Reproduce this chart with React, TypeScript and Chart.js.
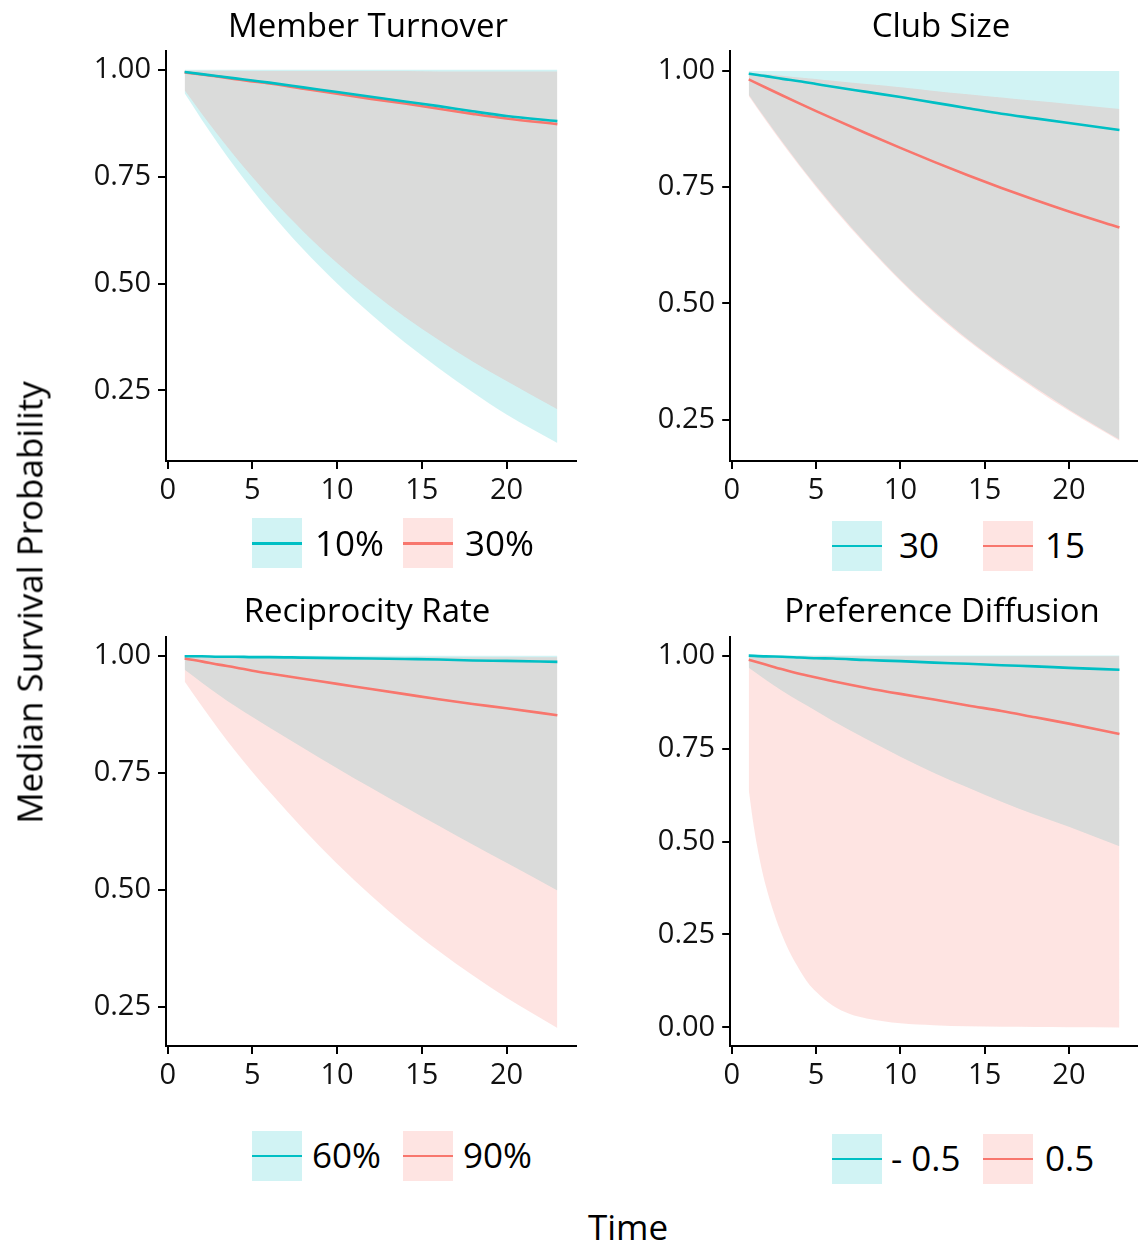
import React, { useEffect, useRef } from "react";
import { Chart, registerables } from "chart.js";

Chart.register(...registerables);

// ---------- data ----------
const TIME = [1, 2, 3, 4, 5, 6, 8, 10, 12, 14, 16, 18, 20, 23];
const TIME_DROP = [1, 1.25, 1.5, 1.75, 2, 2.5, 3, 3.5, 4, 4.5, 5, 6, 7, 8, 10, 12, 14, 16, 18, 20, 23];
const X_TICKS = [0, 5, 10, 15, 20];
const Y_TICKS_A = [0.25, 0.5, 0.75, 1.0];
const Y_TICKS_B = [0, 0.25, 0.5, 0.75, 1.0];

// Member Turnover: 10% (teal) vs 30% (red)
const MT_A_MED = [0.995, 0.99, 0.985, 0.98, 0.975, 0.97, 0.959, 0.948, 0.937, 0.926, 0.915, 0.903, 0.892, 0.88];
const MT_A_UP = [1.0, 1.0, 1.0, 1.0, 1.0, 1.0, 1.0, 1.0, 1.0, 1.0, 1.0, 1.0, 1.0, 1.0];
const MT_A_LOW = [0.945, 0.884, 0.826, 0.771, 0.719, 0.67, 0.58, 0.5, 0.428, 0.362, 0.302, 0.246, 0.194, 0.127];
const MT_B_MED = [0.994, 0.989, 0.984, 0.978, 0.973, 0.968, 0.956, 0.944, 0.932, 0.921, 0.909, 0.897, 0.886, 0.873];
const MT_B_UP = [0.998, 0.998, 0.998, 0.998, 0.997, 0.997, 0.997, 0.997, 0.997, 0.997, 0.996, 0.996, 0.996, 0.996];
const MT_B_LOW = [0.952, 0.898, 0.846, 0.796, 0.749, 0.704, 0.622, 0.548, 0.482, 0.422, 0.368, 0.318, 0.272, 0.206];

// Club Size: 30 (teal) vs 15 (red)
const CS_A_MED = [0.994, 0.989, 0.983, 0.978, 0.972, 0.966, 0.955, 0.944, 0.932, 0.92, 0.908, 0.898, 0.888, 0.873];
const CS_A_UP = [1.0, 1.0, 1.0, 1.0, 1.0, 1.0, 1.0, 1.0, 1.0, 1.0, 1.0, 1.0, 1.0, 1.0];
const CS_A_LOW = [0.949, 0.897, 0.847, 0.799, 0.753, 0.709, 0.627, 0.551, 0.483, 0.423, 0.369, 0.319, 0.272, 0.207];
const CS_B_MED = [0.982, 0.9645, 0.9473, 0.9304, 0.9138, 0.8975, 0.8655, 0.8345, 0.8045, 0.7757, 0.7483, 0.7223, 0.6977, 0.6632];
const CS_B_UP = [0.997, 0.993, 0.99, 0.986, 0.983, 0.979, 0.972, 0.965, 0.957, 0.95, 0.943, 0.936, 0.929, 0.918];
const CS_B_LOW = [0.946, 0.894, 0.844, 0.796, 0.75, 0.706, 0.624, 0.548, 0.48, 0.42, 0.366, 0.316, 0.269, 0.2045];

// Reciprocity Rate: 60% (teal) vs 90% (red)
const RR_A_MED = [0.999, 0.999, 0.998, 0.998, 0.997, 0.997, 0.996, 0.995, 0.994, 0.993, 0.992, 0.99, 0.989, 0.987];
const RR_A_UP = [1.0, 1.0, 1.0, 1.0, 1.0, 1.0, 1.0, 1.0, 1.0, 1.0, 1.0, 1.0, 1.0, 1.0];
const RR_A_LOW = [0.97, 0.943, 0.917, 0.892, 0.869, 0.847, 0.803, 0.76, 0.718, 0.677, 0.637, 0.597, 0.558, 0.499];
const RR_B_MED = [0.994, 0.988, 0.981, 0.975, 0.968, 0.962, 0.951, 0.94, 0.929, 0.918, 0.907, 0.897, 0.888, 0.873];
const RR_B_UP = [0.998, 0.998, 0.998, 0.998, 0.997, 0.997, 0.997, 0.997, 0.997, 0.997, 0.997, 0.997, 0.997, 0.997];
const RR_B_LOW = [0.945, 0.893, 0.843, 0.796, 0.752, 0.71, 0.63, 0.556, 0.488, 0.426, 0.37, 0.318, 0.27, 0.2055];

// Preference Diffusion: -0.5 (teal) vs 0.5 (red)
const PD_A_MED = [1.0, 0.998, 0.997, 0.995, 0.993, 0.992, 0.988, 0.985, 0.981, 0.978, 0.974, 0.971, 0.967, 0.962];
const PD_A_UP = [1.0, 1.0, 1.0, 1.0, 1.0, 1.0, 1.0, 1.0, 1.0, 1.0, 1.0, 1.0, 1.0, 1.0];
const PD_A_LOW = [0.967, 0.935, 0.905, 0.877, 0.851, 0.824, 0.775, 0.728, 0.684, 0.645, 0.607, 0.572, 0.54, 0.487];
const PD_B_MED = [0.989, 0.976, 0.963, 0.951, 0.941, 0.931, 0.913, 0.897, 0.882, 0.866, 0.851, 0.834, 0.817, 0.789];
const PD_B_UP = [0.998, 0.998, 0.998, 0.998, 0.998, 0.998, 0.998, 0.998, 0.998, 0.998, 0.998, 0.998, 0.998, 0.998, 0.998, 0.998, 0.998, 0.998, 0.998, 0.998, 0.998];
const PD_B_LOW = [0.639, 0.555, 0.487, 0.43, 0.383, 0.307, 0.246, 0.196, 0.156, 0.121, 0.096, 0.058, 0.036, 0.024, 0.011, 0.006, 0.003, 0.0015, 0.001, 0.0005, 0.0];

// ---------- styling ----------
const TEAL = "#00BFC4";
const RED = "#F8766D";
const TEAL_FILL = "rgba(0,191,196,0.18)";
const RED_FILL = "rgba(248,118,109,0.2)";
const FONT = "'Open Sans', sans-serif";
const TICK_SIZE = 29;

type Panel = {
  title: string;
  labels: [string, string];
  tBandA: number[];
  tBandB: number[];
  aMed: number[]; aUp: number[]; aLow: number[];
  bMed: number[]; bUp: number[]; bLow: number[];
  yTicks: number[];
  yMin: number; yMax: number;
  area: { l: number; t: number; r: number; b: number };
  canvas: { x: number; y: number; w: number; h: number };
  titleX: number; titleBase: number;
  legend: { boxA: number; boxB: number; textA: number; textB: number; boxY: number };
};

const PANELS: Panel[] = [
  {
    title: "Member Turnover", labels: ["10%", "30%"], tBandA: TIME, tBandB: TIME,
    aMed: MT_A_MED, aUp: MT_A_UP, aLow: MT_A_LOW, bMed: MT_B_MED, bUp: MT_B_UP, bLow: MT_B_LOW,
    yTicks: Y_TICKS_A, yMin: 0.085, yMax: 1.044,
    area: { l: 166, t: 51, r: 576, b: 461 }, canvas: { x: 0, y: 0, w: 580, h: 520 },
    titleX: 368, titleBase: 37.5,
    legend: { boxA: 252.3, boxB: 403, textA: 315, textB: 465, boxY: 518.3 },
  },
  {
    title: "Club Size", labels: ["30", "15"], tBandA: TIME, tBandB: TIME,
    aMed: CS_A_MED, aUp: CS_A_UP, aLow: CS_A_LOW, bMed: CS_B_MED, bUp: CS_B_UP, bLow: CS_B_LOW,
    yTicks: Y_TICKS_A, yMin: 0.161, yMax: 1.043,
    area: { l: 730.2, t: 51, r: 1138, b: 461 }, canvas: { x: 590, y: 0, w: 548, h: 520 },
    titleX: 941, titleBase: 37.5,
    legend: { boxA: 832.3, boxB: 983, textA: 899, textB: 1045, boxY: 521 },
  },
  {
    title: "Reciprocity Rate", labels: ["60%", "90%"], tBandA: TIME, tBandB: TIME,
    aMed: RR_A_MED, aUp: RR_A_UP, aLow: RR_A_LOW, bMed: RR_B_MED, bUp: RR_B_UP, bLow: RR_B_LOW,
    yTicks: Y_TICKS_A, yMin: 0.167, yMax: 1.04,
    area: { l: 166, t: 637, r: 576, b: 1046 }, canvas: { x: 0, y: 586, w: 580, h: 520 },
    titleX: 367, titleBase: 622,
    legend: { boxA: 252.3, boxB: 403, textA: 312, textB: 463, boxY: 1131 },
  },
  {
    title: "Preference Diffusion", labels: ["- 0.5", "0.5"], tBandA: TIME, tBandB: TIME_DROP,
    aMed: PD_A_MED, aUp: PD_A_UP, aLow: PD_A_LOW, bMed: PD_B_MED, bUp: PD_B_UP, bLow: PD_B_LOW,
    yTicks: Y_TICKS_B, yMin: -0.05, yMax: 1.05,
    area: { l: 730.2, t: 637, r: 1138, b: 1046 }, canvas: { x: 590, y: 586, w: 548, h: 520 },
    titleX: 942, titleBase: 622,
    legend: { boxA: 832.3, boxB: 983, textA: 891, textB: 1045, boxY: 1134 },
  },
];

function pts(xs: number[], ys: number[]) {
  return xs.map((x, i) => ({ x, y: ys[i] }));
}

function PanelChart({ p }: { p: Panel }) {
  const ref = useRef<HTMLCanvasElement | null>(null);
  useEffect(() => {
    if (!ref.current) return;
    const c = p.canvas;
    const a = p.area;
    const yWidth = a.l - c.x;
    const xHeight = c.y + c.h - a.b;
    const line = (data: any, color: string) => ({
      data, borderColor: color, borderWidth: 2.6, pointRadius: 0, fill: false,
      cubicInterpolationMode: "monotone" as const,
    });
    const band = (data: any, bg: string, fill: any) => ({
      data, borderColor: "rgba(0,0,0,0)", borderWidth: 0.01, pointRadius: 0,
      backgroundColor: bg, fill, cubicInterpolationMode: "monotone" as const,
    });
    const commonGrid = {
      display: true, drawOnChartArea: false, drawTicks: true, tickLength: 8,
      color: "#000", tickColor: "#000", tickWidth: 2, lineWidth: 2,
    };
    const chart = new Chart(ref.current, {
      type: "line",
      data: {
        datasets: [
          line(pts(TIME, p.aMed), TEAL),
          line(pts(TIME, p.bMed), RED),
          band(pts(p.tBandB, p.bUp), RED_FILL, "+1"),
          band(pts(p.tBandB, p.bLow), "rgba(0,0,0,0)", false),
          band(pts(p.tBandA, p.aUp), TEAL_FILL, "+1"),
          band(pts(p.tBandA, p.aLow), "rgba(0,0,0,0)", false),
        ] as any,
      },
      options: {
        animation: false,
        responsive: false,
        maintainAspectRatio: false,
        devicePixelRatio: 1,
        events: [],
        layout: {
          autoPadding: false,
          padding: { left: 0, top: a.t - c.y, right: c.x + c.w - a.r, bottom: 0 },
        },
        plugins: {
          legend: { display: false },
          tooltip: { enabled: false },
          title: { display: false },
        },
        scales: {
          x: {
            type: "linear",
            min: -0.1,
            max: 24.1,
            afterBuildTicks: (s: any) => { s.ticks = X_TICKS.map((v) => ({ value: v })); },
            afterFit: (s: any) => {
              s.height = xHeight;
              s.paddingLeft = 0; s.paddingRight = 0; s.paddingTop = 0; s.paddingBottom = 0;
            },
            ticks: {
              autoSkip: false, maxRotation: 0, padding: 4, color: "#111",
              font: { family: FONT, size: TICK_SIZE },
              callback: (v: any) => String(v),
            },
            grid: commonGrid,
            border: { display: true, color: "#000", width: 2 },
          },
          y: {
            type: "linear",
            min: p.yMin,
            max: p.yMax,
            afterBuildTicks: (s: any) => { s.ticks = p.yTicks.map((v) => ({ value: v })); },
            afterFit: (s: any) => {
              s.width = yWidth;
              s.paddingLeft = 0; s.paddingRight = 0; s.paddingTop = 0; s.paddingBottom = 0;
            },
            ticks: {
              autoSkip: false, padding: 7, color: "#111",
              font: { family: FONT, size: TICK_SIZE },
              callback: (v: any) => Number(v).toFixed(2),
            },
            grid: commonGrid,
            border: { display: true, color: "#000", width: 2 },
          },
        },
      } as any,
    });
    return () => chart.destroy();
  }, [p]);
  return (
    <canvas
      ref={ref}
      width={p.canvas.w}
      height={p.canvas.h}
      style={{ position: "absolute", left: p.canvas.x, top: p.canvas.y, width: p.canvas.w, height: p.canvas.h }}
    />
  );
}

const BASE_RATIO = 0.888;

function Text({ text, x, base, size, align = "center" }: { text: string; x: number; base: number; size: number; align?: "center" | "left" }) {
  const top = base - BASE_RATIO * size;
  const style: React.CSSProperties = {
    position: "absolute", top, fontFamily: FONT, fontSize: size, lineHeight: `${size}px`,
    whiteSpace: "nowrap", color: "#000", zIndex: 2,
  };
  if (align === "center") {
    style.left = x - 400; style.width = 800; style.textAlign = "center";
  } else {
    style.left = x;
  }
  return <div style={style}>{text}</div>;
}

function LegendKey({ x, y, color, fill }: { x: number; y: number; color: string; fill: string }) {
  return (
    <div style={{ position: "absolute", left: x, top: y, width: 50, height: 50, background: fill, zIndex: 2 }}>
      <div style={{ position: "absolute", left: 0, top: 23.6, width: 50, height: 2.8, background: color }} />
    </div>
  );
}

export default function App() {
  useEffect(() => {
    document.body.style.margin = "0";
  }, []);
  const ySize = 35;
  return (
    <div style={{ position: "absolute", left: 0, top: 0, width: 1138, height: 1249, background: "#fff", overflow: "hidden" }}>
      {PANELS.map((p, i) => (
        <React.Fragment key={i}>
          <PanelChart p={p} />
          <Text text={p.title} x={p.titleX} base={p.titleBase} size={33} />
          <LegendKey x={p.legend.boxA} y={p.legend.boxY} color={TEAL} fill={TEAL_FILL} />
          <LegendKey x={p.legend.boxB} y={p.legend.boxY} color={RED} fill={RED_FILL} />
          <Text text={p.labels[0]} x={p.legend.textA} base={p.legend.boxY + 25 + 12.5} size={35} align="left" />
          <Text text={p.labels[1]} x={p.legend.textB} base={p.legend.boxY + 25 + 12.5} size={35} align="left" />
        </React.Fragment>
      ))}
      <Text text="Time" x={628} base={1240} size={35} />
      <div
        style={{
          position: "absolute", left: 43 - (BASE_RATIO - 0.5) * ySize - 400, top: 602 - ySize / 2,
          width: 800, height: ySize, lineHeight: `${ySize}px`, fontSize: ySize, fontFamily: FONT,
          textAlign: "center", whiteSpace: "nowrap", transform: "rotate(-90deg)", transformOrigin: "center center",
          color: "#000",
        }}
      >
        Median Survival Probability
      </div>
    </div>
  );
}
